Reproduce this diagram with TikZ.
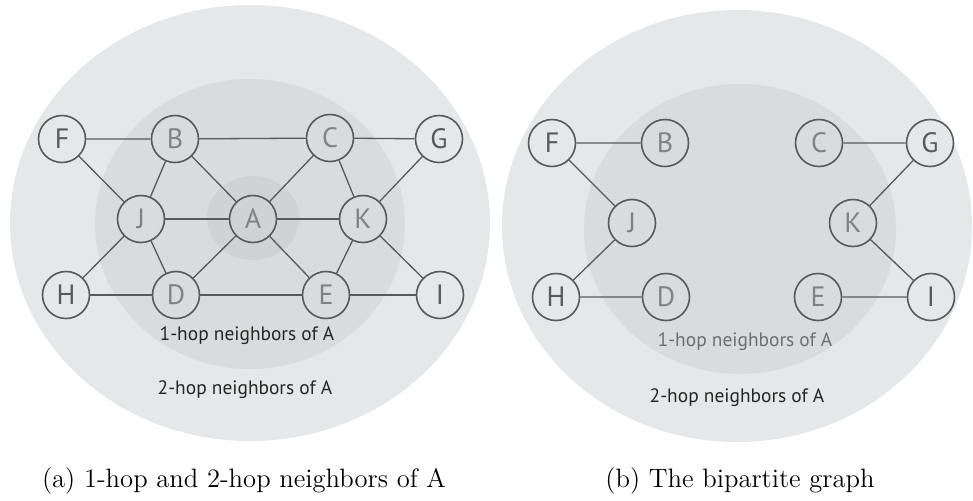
\documentclass[tikz,border=0pt]{standalone}
\usepackage{fontspec}
\usepackage{tikz}
\newfontfamily\graphfont{PT Sans}
\usetikzlibrary{positioning}
\definecolor{twohop}{HTML}{E6E7E8}
\definecolor{onehop}{HTML}{DADBDC}
\definecolor{center}{HTML}{D1D2D4}
\definecolor{rim}{HTML}{58595B}
\definecolor{pale}{HTML}{808285}
\tikzset{far/.style = {draw = rim, line width = 0.8pt, circle, inner sep = 0,
                       minimum size = 23.5pt, text = rim, font = \graphfont\fontsize{14}{14}\selectfont}}
\tikzset{near/.style = {far, text = pale}}
\tikzset{hoptext/.style = {font = \graphfont\fontsize{9.7}{10}\selectfont, text = black!85, anchor = base}}
\tikzset{caption/.style = {font = \fontsize{13.3}{16}\selectfont, anchor = base}}
\tikzset{link/.style = {draw = rim, line width = 0.65pt}}

\begin{document}
\begin{tikzpicture}[x=0.5pt, y=-0.5pt]
    \useasboundingbox (0, 0) rectangle (973, 500);
    % (a) regions around A
    \fill [twohop] (250, 223) ellipse [x radius = 240, y radius = 218];
    \fill [onehop] (250, 224) ellipse [x radius = 155, y radius = 145];
    \fill [center] (253, 218) ellipse [x radius = 46, y radius = 42];
    \node [hoptext] (a1hop) at (247, 340) {1-hop neighbors of A};
    \node [hoptext] (a2hop) at (245, 394) {2-hop neighbors of A};
    \node [far] (aF) at (62, 139) {F};
    \node [near] (aB) at (175, 139) {B};
    \node [near] (aC) at (330, 138) {C};
    \node [far] (aG) at (439, 139) {G};
    \node [near] (aJ) at (141, 219) {J};
    \node [near] (aA) at (253, 219) {A};
    \node [near] (aK) at (363, 219) {K};
    \node [far] (aH) at (66, 295) {H};
    \node [near] (aD) at (176, 295) {D};
    \node [near] (aE) at (326, 295) {E};
    \node [far] (aI) at (440, 295) {I};
    \draw [link] (aF) -- (aB) -- (aC) -- (aG);
    \draw [link] (aH) -- (aD) -- (aE) -- (aI);
    \draw [link] (aJ) -- (aA) -- (aK);
    \draw [link] (aF) -- (aJ) -- (aH);
    \draw [link] (aG) -- (aK) -- (aI);
    \draw [link] (aB) -- (aJ) -- (aD);
    \draw [link] (aC) -- (aK) -- (aE);
    \draw [link] (aB) -- (aA) -- (aE);
    \draw [link] (aC) -- (aA) -- (aD);
    \node [caption] (acap) at (244, 487) {(a) 1-hop and 2-hop neighbors of A};

    % (b) only the links between the two rings
    \fill [twohop] (737, 226) ellipse [x radius = 235, y radius = 216];
    \fill [onehop] (740, 229) ellipse [x radius = 156, y radius = 145];
    \node [hoptext, text = pale!85!black] (b1hop) at (745, 346) {1-hop neighbors of A};
    \node [hoptext] (b2hop) at (737, 402) {2-hop neighbors of A};
    \node [far] (bF) at (552, 143) {F};
    \node [near] (bB) at (665, 143) {B};
    \node [near] (bC) at (819, 143) {C};
    \node [far] (bG) at (930, 143) {G};
    \node [near] (bJ) at (632, 223) {J};
    \node [near] (bK) at (853, 223) {K};
    \node [far] (bH) at (556, 297) {H};
    \node [near] (bD) at (666, 297) {D};
    \node [near] (bE) at (818, 297) {E};
    \node [far] (bI) at (931, 297) {I};
    \draw [link] (bB) -- (bF) -- (bJ) -- (bH) -- (bD);
    \draw [link] (bC) -- (bG) -- (bK) -- (bI) -- (bE);
    \node [caption] (bcap) at (740, 487) {(b) The bipartite graph};
\end{tikzpicture}
\end{document}
